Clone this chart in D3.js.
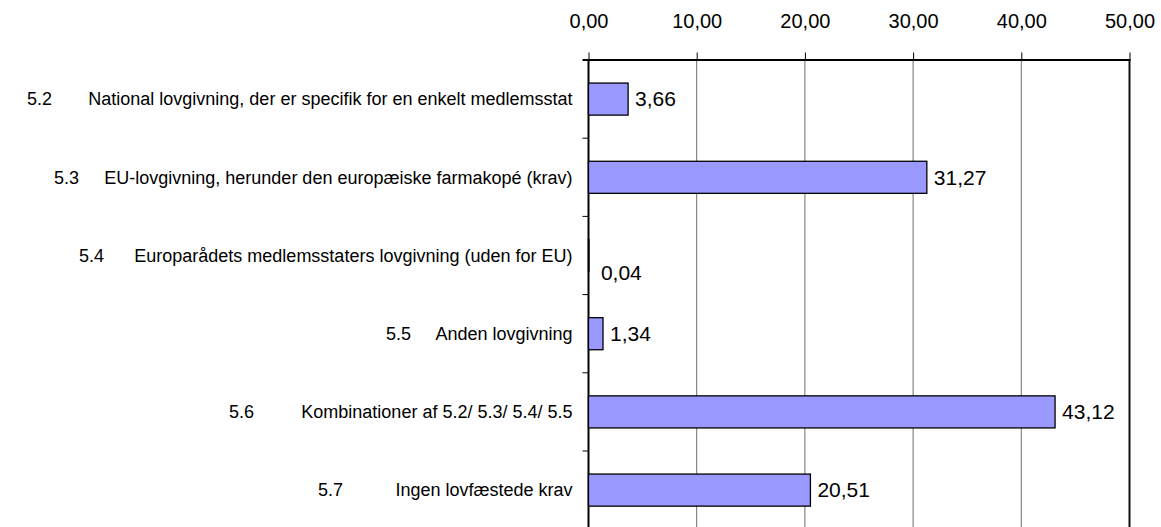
<!DOCTYPE html>
<html lang="da">
<head>
<meta charset="utf-8">
<script src="https://d3js.org/d3.v7.min.js"></script>
<style>
  html, body { margin: 0; padding: 0; background: #fff; }
  text { font-family: "Liberation Sans", Arial, sans-serif; fill: #000; }
</style>
</head>
<body>
<div id="chart"></div>
<script>
// data
var codes = ["5.2", "5.3", "5.4", "5.5", "5.6", "5.7"];
var labels = [
  "National lovgivning, der er specifik for en enkelt medlemsstat",
  "EU-lovgivning, herunder den europæiske farmakopé (krav)",
  "Europarådets medlemsstaters lovgivning (uden for EU)",
  "Anden lovgivning",
  "Kombinationer af 5.2/ 5.3/ 5.4/ 5.5",
  "Ingen lovfæstede krav"
];
var values = [3.66, 31.27, 0.04, 1.34, 43.12, 20.51];
var xTicks = [0, 10, 20, 30, 40, 50];

var width = 1161, height = 527;
var plotLeft = 588.5, plotRight = 1129.5, plotTop = 60;
var step = 78.2;
// left edge of each code ("5.x"), as placed by the tab stops in the original
var codeX = [27, 54, 79, 386, 229, 318];

var fmt = function (v) { return d3.format(".2f")(v).replace(".", ","); };

var svg = d3.select("#chart").append("svg")
  .attr("width", width)
  .attr("height", height);

var x = d3.scaleLinear().domain([0, 50]).range([plotLeft, plotRight]);
var y = d3.scaleBand()
  .domain(codes)
  .range([plotTop, plotTop + step * codes.length])
  .paddingInner(0.59)
  .paddingOuter(0.295);

// gridlines
svg.append("g")
  .selectAll("line")
  .data(xTicks.slice(1, -1))
  .join("line")
  .attr("x1", function (d) { return x(d); })
  .attr("x2", function (d) { return x(d); })
  .attr("y1", plotTop)
  .attr("y2", height)
  .attr("stroke", "#6e6e6e")
  .attr("stroke-width", 1);

// right border
svg.append("line")
  .attr("x1", plotRight).attr("x2", plotRight)
  .attr("y1", plotTop).attr("y2", height)
  .attr("stroke", "#111").attr("stroke-width", 2);

// top axis
var xAxis = d3.axisTop(x)
  .tickValues(xTicks)
  .tickSize(7.5)
  .tickPadding(25)
  .tickFormat(fmt);

var gx = svg.append("g")
  .attr("transform", "translate(0," + plotTop + ")")
  .call(xAxis);
gx.select(".domain").remove();
gx.selectAll(".tick line").attr("stroke", "#000").attr("stroke-width", 1);
gx.selectAll(".tick text")
  .attr("font-size", 20)
  .attr("font-family", "Liberation Sans, Arial, sans-serif")
  .attr("fill", "#000");

svg.append("line")
  .attr("x1", plotLeft - 6).attr("x2", plotRight + 1)
  .attr("y1", plotTop).attr("y2", plotTop)
  .attr("stroke", "#000").attr("stroke-width", 2);

// left axis
svg.append("line")
  .attr("x1", plotLeft).attr("x2", plotLeft)
  .attr("y1", plotTop).attr("y2", height)
  .attr("stroke", "#000").attr("stroke-width", 2);

svg.append("g")
  .selectAll("line")
  .data(codes.slice(1))
  .join("line")
  .attr("x1", plotLeft - 6)
  .attr("x2", plotLeft)
  .attr("y1", function (d) { return y(d) - y.step() * y.paddingInner() / 2; })
  .attr("y2", function (d) { return y(d) - y.step() * y.paddingInner() / 2; })
  .attr("stroke", "#000")
  .attr("stroke-width", 1);

// bars
svg.append("g")
  .selectAll("rect")
  .data(values)
  .join("rect")
  .attr("x", x(0))
  .attr("y", function (d, i) { return y(codes[i]); })
  .attr("width", function (d) { return x(d) - x(0); })
  .attr("height", y.bandwidth())
  .attr("fill", "#9999ff")
  .attr("stroke", "#000")
  .attr("stroke-width", 1.3);

// value labels (a near-zero bar gets its label pushed below, as in the original)
svg.append("g")
  .selectAll("text")
  .data(values)
  .join("text")
  .attr("x", function (d) { return x(d) + (x(d) - x(0) < 2 ? 12 : 7); })
  .attr("y", function (d, i) {
    return y(codes[i]) + y.bandwidth() / 2 + (x(d) - x(0) < 2 ? 17 : 0);
  })
  .attr("dy", "0.35em")
  .attr("font-size", 21)
  .text(fmt);

// category labels
var cat = svg.append("g")
  .selectAll("g")
  .data(labels)
  .join("g")
  .attr("transform", function (d, i) {
    return "translate(0," + (y(codes[i]) + y.bandwidth() / 2) + ")";
  });

cat.append("text")
  .attr("x", plotLeft - 16)
  .attr("dy", "0.35em")
  .attr("text-anchor", "end")
  .attr("font-size", 18)
  .text(function (d) { return d; });

cat.append("text")
  .attr("x", function (d, i) { return codeX[i]; })
  .attr("dy", "0.35em")
  .attr("font-size", 18)
  .text(function (d, i) { return codes[i]; });
</script>
</body>
</html>
